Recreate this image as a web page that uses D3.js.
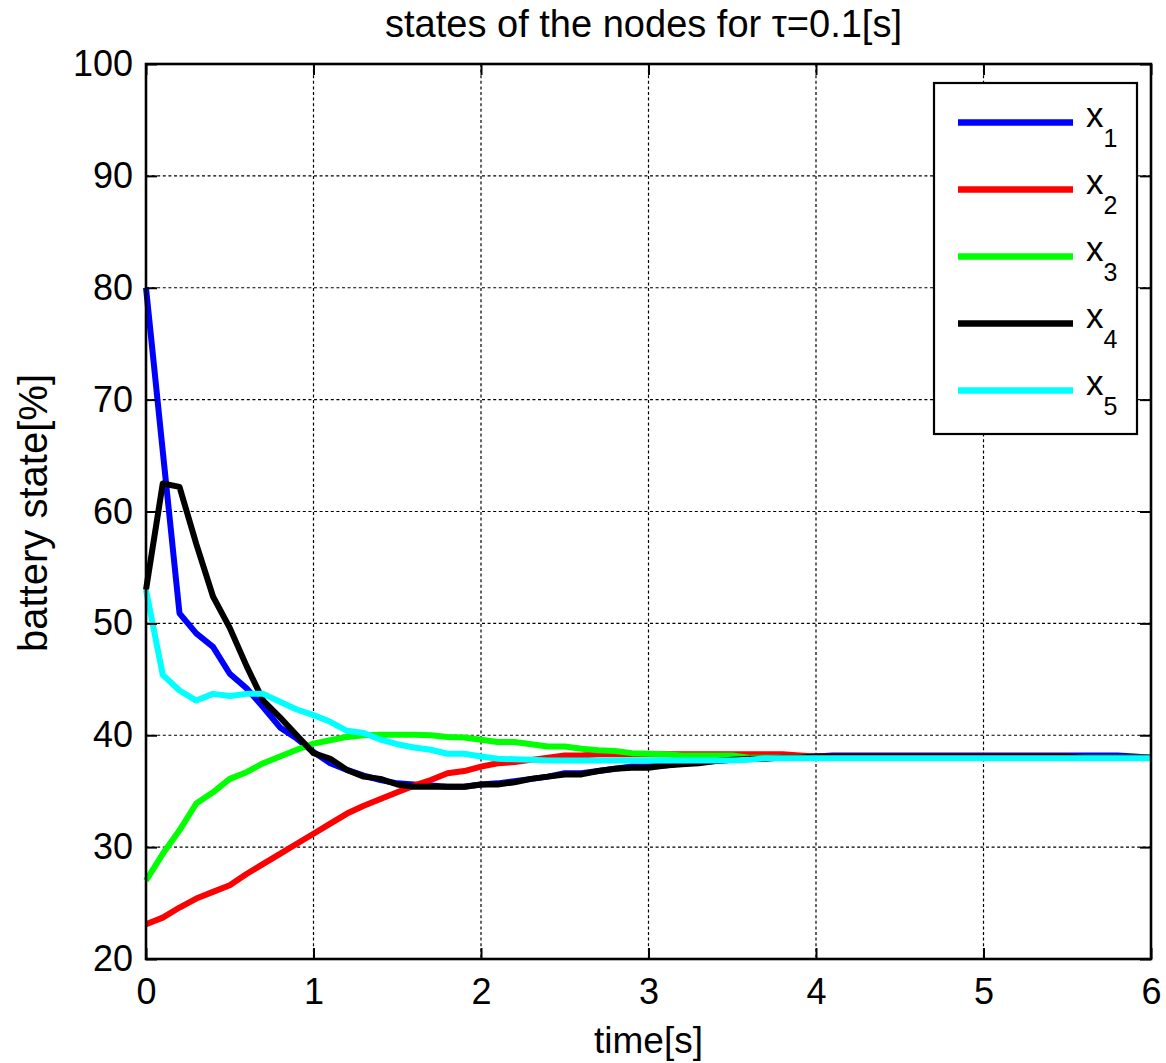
<!DOCTYPE html>
<html>
<head>
<meta charset="utf-8">
<script src="https://cdn.jsdelivr.net/npm/d3@7"></script>
<style>
  html, body { margin: 0; padding: 0; background: #fff; }
  svg { display: block; }
  text { font-family: "Liberation Sans", Arial, Helvetica, sans-serif; fill: #000; }
</style>
</head>
<body>
<svg id="chart" width="1166" height="1063"></svg>
<script>
// ---- data ----
const time = d3.range(0, 61).map(i => +(i * 0.1).toFixed(1));
const seriesNames = ["x1", "x2", "x3", "x4", "x5"];
const seriesColors = ["#0000ff", "#ff0000", "#00ff00", "#000000", "#00ffff"];

const x1 = [80.0, 65.4, 50.9, 49.1, 47.9, 45.5, 44.2, 42.5, 40.7, 39.7,
            38.5, 37.5, 36.9, 36.4, 36.0, 35.7, 35.6, 35.5, 35.4, 35.4,
            35.6, 35.7, 35.9, 36.1, 36.3, 36.6, 36.6, 36.8, 37.0, 37.2,
            37.2, 37.3, 37.5, 37.6, 37.7, 37.8, 37.9, 38.0, 38.0, 38.1,
            38.1, 38.2, 38.2, 38.2, 38.2, 38.2, 38.2, 38.2, 38.2, 38.2,
            38.2, 38.2, 38.2, 38.2, 38.2, 38.2, 38.2, 38.2, 38.2, 38.1, 38.0];
const x2 = [23.1, 23.7, 24.6, 25.4, 26.0, 26.6, 27.6, 28.5, 29.4, 30.3,
            31.2, 32.1, 33.0, 33.7, 34.3, 34.9, 35.5, 36.0, 36.6, 36.8,
            37.2, 37.5, 37.6, 37.8, 38.0, 38.2, 38.2, 38.3, 38.3, 38.3,
            38.3, 38.3, 38.3, 38.3, 38.3, 38.3, 38.3, 38.3, 38.3, 38.2,
            38.1, 38.1, 38.1, 38.1, 38.1, 38.1, 38.1, 38.1, 38.1, 38.1,
            38.1, 38.1, 38.1, 38.1, 38.1, 38.1, 38.0, 38.0, 38.0, 38.0, 38.0];
const x3 = [27.0, 29.4, 31.5, 33.9, 34.9, 36.1, 36.7, 37.5, 38.1, 38.7,
            39.25, 39.55, 39.85, 40.0, 40.05, 40.05, 40.05, 40.0, 39.85, 39.8,
            39.6, 39.4, 39.4, 39.2, 39.0, 39.0, 38.8, 38.65, 38.6, 38.4,
            38.35, 38.3, 38.2, 38.2, 38.2, 38.2, 38.0, 38.0, 38.0, 38.0,
            38.0, 38.0, 38.0, 38.0, 38.0, 38.0, 38.0, 38.0, 38.0, 38.0,
            38.0, 38.0, 38.0, 38.0, 38.0, 38.0, 38.0, 38.0, 38.0, 38.0, 38.0];
const x4 = [53.0, 62.5, 62.2, 57.1, 52.4, 49.6, 46.2, 43.1, 41.6, 40.0,
            38.4, 37.9, 36.9, 36.3, 36.1, 35.6, 35.4, 35.4, 35.4, 35.4,
            35.6, 35.6, 35.8, 36.1, 36.3, 36.5, 36.5, 36.8, 37.0, 37.1,
            37.1, 37.3, 37.4, 37.5, 37.7, 37.8, 37.9, 37.9, 38.0, 38.0,
            38.1, 38.1, 38.1, 38.1, 38.1, 38.1, 38.1, 38.1, 38.1, 38.1,
            38.1, 38.1, 38.1, 38.1, 38.1, 38.1, 38.0, 38.0, 38.0, 38.0, 38.0];
const x5 = [53.0, 45.4, 44.0, 43.1, 43.7, 43.5, 43.7, 43.7, 43.0, 42.3,
            41.8, 41.2, 40.4, 40.2, 39.6, 39.2, 38.9, 38.7, 38.35, 38.35,
            38.1, 37.9, 37.85, 37.8, 37.75, 37.75, 37.75, 37.75, 37.75, 37.75,
            37.75, 37.75, 37.75, 37.75, 37.75, 37.75, 37.8, 37.95, 37.95, 37.95,
            37.95, 37.95, 37.95, 37.95, 37.95, 37.95, 37.95, 37.95, 37.95, 37.95,
            37.95, 37.95, 37.95, 37.95, 37.95, 37.95, 37.95, 37.95, 37.95, 37.95, 37.95];
const seriesValues = [x1, x2, x3, x4, x5];

const xTicks = [0, 1, 2, 3, 4, 5, 6];
const yTicks = [20, 30, 40, 50, 60, 70, 80, 90, 100];
const titleText = "states of the nodes for \u03C4=0.1[s]";
const xLabelText = "time[s]";
const yLabelText = "battery state[%]";

// ---- layout ----
const L = 146, R = 1151, T = 64, B = 959;
const svg = d3.select("#chart");
const x = d3.scaleLinear().domain([0, 6]).range([L, R]);
const y = d3.scaleLinear().domain([20, 100]).range([B, T]);
const FS = 36;

// grid
const grid = svg.append("g").attr("stroke", "#000").attr("stroke-width", 1.2)
  .attr("stroke-dasharray", "3,2.6");
grid.selectAll("line.gx").data(xTicks.slice(1, -1)).join("line")
  .attr("x1", d => x(d)).attr("x2", d => x(d)).attr("y1", T).attr("y2", B);
grid.selectAll("line.gy").data(yTicks.slice(1, -1)).join("line")
  .attr("y1", d => y(d)).attr("y2", d => y(d)).attr("x1", L).attr("x2", R);

// series
const line = d3.line().x((d, i) => x(time[i])).y(d => y(d));
svg.append("g").selectAll("path").data(seriesValues).join("path")
  .attr("d", d => line(d))
  .attr("fill", "none")
  .attr("stroke", (d, i) => seriesColors[i])
  .attr("stroke-width", 6)
  .attr("stroke-linejoin", "round");

// axes
function styleAxis(g) {
  g.selectAll(".domain").remove();
  g.selectAll(".tick line").attr("stroke", "#000").attr("stroke-width", 2);
  g.selectAll("text").style("font-size", FS + "px").attr("fill", "#000")
    .style("font-family", '"Liberation Sans", Arial, sans-serif');
}
svg.append("g").attr("transform", `translate(0,${B})`)
  .call(d3.axisBottom(x).tickValues(xTicks).tickFormat(d3.format("d")).tickSize(-11).tickPadding(19.5))
  .call(styleAxis);
svg.append("g").attr("transform", `translate(0,${T})`)
  .call(d3.axisTop(x).tickValues(xTicks).tickFormat("").tickSize(-11))
  .call(styleAxis);
svg.append("g").attr("transform", `translate(${L},0)`)
  .call(d3.axisLeft(y).tickValues(yTicks).tickFormat(d3.format("d")).tickSize(-11).tickPadding(13))
  .call(styleAxis);
svg.append("g").attr("transform", `translate(${R},0)`)
  .call(d3.axisRight(y).tickValues(yTicks).tickFormat("").tickSize(-11))
  .call(styleAxis);

// frame
svg.append("rect").attr("x", L).attr("y", T).attr("width", R - L).attr("height", B - T)
  .attr("fill", "none").attr("stroke", "#000").attr("stroke-width", 2.6);

// legend
const lg = svg.append("g");
lg.append("rect").attr("x", 934).attr("y", 83).attr("width", 203).attr("height", 351)
  .attr("fill", "#fff").attr("stroke", "#000").attr("stroke-width", 2.2);
seriesNames.forEach((name, i) => {
  const yy = 122.5 + i * 67;
  lg.append("line").attr("x1", 958).attr("x2", 1073).attr("y1", yy).attr("y2", yy)
    .attr("stroke", seriesColors[i]).attr("stroke-width", 6.5);
  const t = lg.append("text").attr("x", 1086).attr("y", yy + 4).style("font-size", "35px");
  t.append("tspan").text(name[0]);
  t.append("tspan").attr("dy", 20).style("font-size", "25px").text(name.slice(1));
});

// titles
svg.append("text").attr("x", 643.5).attr("y", 37).attr("text-anchor", "middle")
  .style("font-size", "39px").attr("textLength", 517).attr("lengthAdjust", "spacingAndGlyphs")
  .text(titleText);
svg.append("text").attr("x", (L + R) / 2).attr("y", 1053).attr("text-anchor", "middle")
  .style("font-size", "37px").text(xLabelText);
svg.append("text").attr("transform", `translate(47,513) rotate(-90)`)
  .attr("text-anchor", "middle").style("font-size", "41px")
  .attr("textLength", 278).attr("lengthAdjust", "spacingAndGlyphs")
  .text(yLabelText);
</script>
</body>
</html>
